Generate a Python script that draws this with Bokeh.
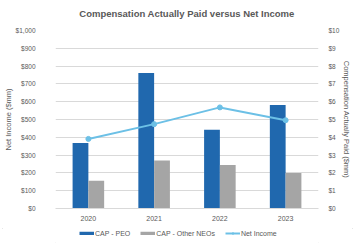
from bokeh.plotting import figure
from bokeh.layouts import column
from bokeh.models import (ColumnDataSource, LinearAxis, Range1d, FactorRange, Title,
                          NumeralTickFormatter, FixedTicker, Legend, LegendItem)
from bokeh.transform import dodge
from bokeh.embed import file_html
from bokeh.resources import INLINE

years = ["2020", "2021", "2022", "2023"]
cap_peo = [3.68, 7.61, 4.43, 5.81]        # $mm
cap_other_neos = [1.56, 2.70, 2.44, 2.00]  # $mm
net_income = [391, 474, 568, 496]          # $mm

FONT = "Liberation Sans"
TEXT = "#595959"
GRID = "#D9D9D9"
BLUE = "#2068AE"
GRAY = "#A5A5A5"
LIGHT = "#6CC0E6"

src = ColumnDataSource(dict(year=years, peo=cap_peo, neo=cap_other_neos, ni=net_income))

p = figure(width=355, height=228, x_range=FactorRange(*years),
           y_range=Range1d(0, 1000), output_backend="svg", toolbar_location=None,
           min_border_left=51, min_border_right=37, min_border_top=28, min_border_bottom=20)
p.extra_y_ranges = {"cap": Range1d(0, 10)}

p.title.text = "Compensation Actually Paid versus Net Income"
p.title.align = "center"
p.title.text_font = FONT
p.title.text_font_size = "9.5px"
p.title.text_color = TEXT
p.title.text_font_style = "bold"
# a blank strip between title and frame lifts the title a little
p.add_layout(Title(text=" ", text_font_size="4px", standoff=0), "above")

p.vbar(x=dodge("year", -0.12, range=p.x_range), top="peo", width=0.24, source=src,
       y_range_name="cap", fill_color=BLUE, line_color=None)
p.vbar(x=dodge("year", 0.12, range=p.x_range), top="neo", width=0.24, source=src,
       y_range_name="cap", fill_color=GRAY, line_color=None)
p.line(x="year", y="ni", source=src, line_color=LIGHT, line_width=2)
p.scatter(x="year", y="ni", source=src, size=5, fill_color=LIGHT, line_color=LIGHT)

# left axis: net income
ya = p.yaxis[0]
ya.ticker = FixedTicker(ticks=list(range(0, 1001, 100)))
ya.formatter = NumeralTickFormatter(format="$0,0")
ya.axis_label = "Net Income ($mm)"

# right axis: compensation actually paid
ra = LinearAxis(y_range_name="cap", axis_label="Compensation Actually Paid ($mm)")
ra.ticker = FixedTicker(ticks=list(range(0, 11)))
ra.formatter = NumeralTickFormatter(format="$0")
p.add_layout(ra, "right")

for ax in (ya, ra):
    ax.axis_line_color = None
    ax.major_tick_line_color = None
    ax.minor_tick_line_color = None
    ax.major_label_text_font = FONT
    ax.major_label_text_font_size = "6.5px"
    ax.major_label_text_color = TEXT
    ax.axis_label_text_font = FONT
    ax.axis_label_text_font_size = "7.5px"
    ax.axis_label_text_font_style = "normal"
    ax.axis_label_text_color = TEXT
    ax.axis_label_standoff = 0
ya.major_label_standoff = 14
ra.major_label_standoff = 4

xa = p.xaxis[0]
xa.axis_line_color = GRID
xa.major_tick_line_color = None
xa.major_label_text_font = FONT
xa.major_label_text_font_size = "7px"
xa.major_label_text_color = TEXT
xa.major_label_standoff = 1

p.xgrid.grid_line_color = None
p.ygrid.grid_line_color = GRID
p.ygrid.ticker = FixedTicker(ticks=list(range(0, 1001, 100)))
p.outline_line_color = None
p.background_fill_color = "white"
p.border_fill_color = "white"

# legend strip under the chart; its glyphs sit outside the strip's visible range
lg = figure(width=355, height=17, output_backend="svg", toolbar_location=None,
            x_axis_type=None, y_axis_type=None, x_range=Range1d(0, 1), y_range=Range1d(0, 1),
            min_border=0)
lg.outline_line_color = None
lg.xgrid.visible = False
lg.ygrid.visible = False
lg_peo = lg.line(x=[5, 6], y=[5, 6], line_color=BLUE, line_width=3.5)
lg_neo = lg.line(x=[5, 6], y=[5, 6], line_color=GRAY, line_width=3.5)
lg_ni = lg.line(x=[5, 6], y=[5, 6], line_color=LIGHT, line_width=2)
lg_ni_pts = lg.scatter(x=[5], y=[5], size=5, fill_color=LIGHT, line_color=LIGHT)

# the strip's frame lines up with the chart frame, so x is measured from the frame's left edge
legend = Legend(items=[
    LegendItem(label="CAP - PEO", renderers=[lg_peo]),
    LegendItem(label="CAP - Other NEOs", renderers=[lg_neo]),
    LegendItem(label="Net Income", renderers=[lg_ni, lg_ni_pts]),
], orientation="horizontal", location=(24, 8))
legend.label_text_font = FONT
legend.label_text_font_size = "7px"
legend.label_text_color = TEXT
legend.label_height = 8
legend.glyph_width = 15
legend.glyph_height = 4
legend.label_standoff = 1
legend.spacing = 10
legend.padding = 0
legend.margin = 0
legend.border_line_color = None
legend.background_fill_alpha = 0
lg.add_layout(legend, "center")

page = column(p, lg, spacing=0)
page.styles = {"outline": "1px solid #DEDEDE", "outline-offset": "-3px"}

open("out.html", "w").write(file_html(page, INLINE))
